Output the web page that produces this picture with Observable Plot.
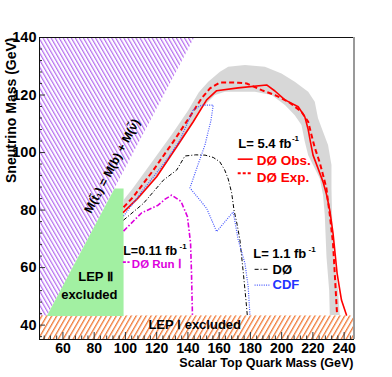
<!DOCTYPE html>
<html><head><meta charset="utf-8">
<script src="https://cdn.jsdelivr.net/npm/d3@7"></script>
<script src="https://cdn.jsdelivr.net/npm/@observablehq/plot@0.6"></script>
<style>html,body{margin:0;padding:0;background:#fff}</style>
</head><body><div id="chart"></div>
<script>
// ---- data (x = scalar top mass, y = sneutrino mass, GeV) ----
const xDomain = [45, 246];
const yDomain = [35, 140];
const xTicks = [60, 80, 100, 120, 140, 160, 180, 200, 220, 240];
const yTicks = [40, 60, 80, 100, 120, 140];
const lepILimit = 43.2;
const kinematicRegion = [[45, 43.2], [45, 140], [144, 140], [49.7, 43.2]];
const lepIIRegion = [[49.7, 43.2], [93, 87.5], [98.8, 87.5], [98.8, 43.2]];
const d0Observed = [[98.8,79.3],[107.9,84.1],[120,91.6],[132.8,102],[143.4,110.7],[152,118.3],[158.4,121.5],[172.2,122.5],[190.4,123.5],[195.7,121.4],[202.1,118.3],[210.6,115.9],[214.8,112.5],[217,108],[218.5,103.5],[220.1,99.1],[223.3,94.5],[226.5,89.8],[228.7,85.5],[230.8,80],[232.9,71.9],[235.5,58],[238.3,48.7],[241.5,43.5]];
const d0Expected = [[98.8,81],[105.1,84.6],[117.9,93.9],[130.7,103.8],[141.3,112.5],[148.8,118.9],[154.1,122.3],[160.5,124.4],[172.2,124.3],[177.6,124],[187.2,121.7],[195.7,120],[204.2,117.7],[212.7,114.2],[217,110.7],[219.1,106.1],[221.2,101.7],[224.4,96.5],[226.5,92.2],[228.7,87.5],[229.7,82.9],[230.8,78.5],[232.9,68.4],[234,58],[235.5,43.5]];
const bandOuter = [[98.8,83.5],[105,87.8],[118,97.5],[130,106.5],[140,114.5],[147,121],[153,124.6],[160.5,128.1],[165.8,129.8],[176.5,130.4],[189.3,129.8],[199.9,127.5],[208.4,124.6],[217,121.1],[221.2,117.7],[223.3,111.9],[226.5,107.2],[229.7,102.6],[231.9,95.7],[231.9,87.5],[232.3,78],[233.4,63.8],[236.1,52.2],[237.2,43.5]];
const bandInner = [[98.8,79],[108,83.5],[120,91.2],[133,101.5],[143.4,110.2],[148.8,115.4],[157.3,120],[163.7,121.1],[182.9,121.1],[193.6,120],[202.1,116.5],[208.4,113],[212.7,109.6],[214.8,103.8],[217,99.1],[220.1,95.7],[224.4,91],[226.5,85.2],[227.6,78.3],[228.7,63.8],[230.4,52.2],[230.8,43.5]];
const d0RunIIa = [[98.8,76.5],[111.5,82.3],[124.3,90.4],[132.8,93.9],[138.1,98.8],[145,99.2],[151,99.1],[156.2,98.3],[160.4,96.8],[163.5,94],[165.8,90.8],[168,86],[169.5,80],[171.5,75],[173.3,69.6],[175.5,58],[177.1,49],[178,43.5]];
const cdf = [[98.8,77.9],[111.3,87],[125.4,96.7],[134.9,104.3],[143.4,114.8],[148.8,116.5],[156.2,116.5],[154.8,111.3],[150.9,102.6],[146.4,95.7],[141.3,87.7],[152,80.6],[158.4,72.5],[169,79.4],[172.2,69.6],[176.5,61.5],[178.6,53.3],[179.7,43.5]];
const d0RunI = [[98.8,72.7],[110.3,79],[120.9,81.7],[125.4,83.8],[129.6,85.2],[135.6,83],[139.7,77.7],[141.7,68.5],[142.3,58.1],[142.9,43.5]];

// ---- layout ----
const W = 392, H = 377, mL = 39, mR = 39, mT = 37, mB = 38;
const gx = (xDomain[1] - xDomain[0]) / (W - mL - mR);
const gy = (yDomain[1] - yDomain[0]) / (H - mT - mB);
const F = "Liberation Sans, Arial, Helvetica, sans-serif";
const xMinor = d3.range(48, 246, 4).filter(v => !xTicks.includes(v));
const yMinor = d3.range(36, 141, 4).filter(v => !yTicks.includes(v));
const bandPolygon = bandOuter.concat(bandInner.slice().reverse());
const X = d => d[0], Y = d => d[1];
const T = (s, o) => Plot.text([s], {text: d => d, fontFamily: F, fontWeight: "bold", lineAnchor: "bottom", textAnchor: "start", ...o});

const plot = Plot.plot({
  width: W, height: H,
  marginLeft: mL, marginRight: mR, marginTop: mT, marginBottom: mB,
  x: {domain: xDomain, axis: null},
  y: {domain: yDomain, axis: null},
  style: {fontFamily: F, background: "white"},
  marks: [
    Plot.line(kinematicRegion, {x: X, y: Y, fill: "url(#hatchPurple)", stroke: "none"}),
    Plot.rect([0], {x1: xDomain[0], x2: xDomain[1], y1: yDomain[0], y2: lepILimit, fill: "url(#hatchOrange)"}),
    Plot.line(lepIIRegion, {x: X, y: Y, fill: "#a2f0a2", stroke: "none"}),
    Plot.line(bandPolygon, {x: X, y: Y, fill: "url(#grayDots)", stroke: "none"}),
    Plot.line(d0Expected, {x: X, y: Y, stroke: "#ff0000", strokeWidth: 2, strokeDasharray: "5,3", strokeLinecap: "butt"}),
    Plot.line(d0Observed, {x: X, y: Y, stroke: "#ff0000", strokeWidth: 1.6}),
    Plot.line(d0RunIIa, {x: X, y: Y, stroke: "#000", strokeWidth: 1, strokeDasharray: "4,2,1,2", strokeLinecap: "butt"}),
    Plot.line(cdf, {x: X, y: Y, stroke: "#4455ff", strokeWidth: 1.2, strokeDasharray: "1,1.3", strokeLinecap: "butt"}),
    Plot.line(d0RunI, {x: X, y: Y, stroke: "#dd00dd", strokeWidth: 1.6, strokeDasharray: "5,2,1.5,2", strokeLinecap: "butt"}),
    // ticks (inside the frame)
    Plot.ruleY(yTicks, {y: d => d, x1: xDomain[0], x2: xDomain[0] + 6 * gx, stroke: "#333"}),
    Plot.ruleY(yMinor, {y: d => d, x1: xDomain[0], x2: xDomain[0] + 3 * gx, stroke: "#333"}),
    Plot.ruleX(xTicks, {x: d => d, y1: yDomain[0], y2: yDomain[0] + 7 * gy, stroke: "#333"}),
    Plot.ruleX(xMinor, {x: d => d, y1: yDomain[0], y2: yDomain[0] + 3.5 * gy, stroke: "#333"}),
    Plot.axisX({ticks: xTicks, tickSize: 0, tickPadding: 4, tickFormat: d => String(d), fontSize: 14, fontWeight: "bold", label: null}),
    Plot.axisY({ticks: yTicks, tickSize: 0, tickPadding: 3, tickFormat: d => String(d), fontSize: 14.5, fontWeight: "bold", label: null}),
    Plot.frame({stroke: "#111"}),
    Plot.ruleX([xDomain[1]], {stroke: "#999", strokeWidth: 2, dx: 0.5}),
    // axis titles
    Plot.text(["Sneutrino Mass (GeV)"], {text: d => d, frameAnchor: "top-left", rotate: -90, textAnchor: "end", lineAnchor: "middle", dx: -28, fontFamily: F, fontWeight: "bold", fontSize: 14}),
    Plot.text(["Scalar Top Quark Mass (GeV)"], {text: d => d, frameAnchor: "bottom-right", textAnchor: "end", lineAnchor: "bottom", dy: 27, fontFamily: F, fontWeight: "bold", fontSize: 12.5}),
    // annotations
    Plot.text(["M(t\u0303\u2081) = M(b) + M(\u03bd\u0303)"], {text: d => d, x: 91.5, y: 95.3, rotate: -62, textAnchor: "middle", lineAnchor: "middle", fontFamily: F, fontWeight: "bold", fontSize: 12}),
    T("LEP \u2161", {x: 80.9, y: 55.4, textAnchor: "middle", fontSize: 13}),
    T("excluded", {x: 76.9, y: 49.0, textAnchor: "middle", fontSize: 13}),
    T("LEP \u2160 excluded", {x: 114.7, y: 38.6, fontSize: 13}),
    T("L= 5.4 fb", {x: 172.3, y: 101.7, fontSize: 13}),
    T("-1", {x: 206.6, y: 103.9, fontSize: 8}),
    Plot.ruleY([97.7], {x1: 172.2, x2: 181.8, stroke: "#ff0000", strokeWidth: 1.6}),
    T("D\u00d8 Obs.", {x: 184, y: 95.7, fontSize: 13.5, fill: "#ff0000"}),
    Plot.ruleY([92.8], {x1: 172.2, x2: 181.8, stroke: "#ff0000", strokeWidth: 2, strokeDasharray: "3,2"}),
    T("D\u00d8 Exp.", {x: 184, y: 89.6, fontSize: 13.5, fill: "#ff0000"}),
    T("L= 1.1 fb", {x: 181.8, y: 63.2, fontSize: 13}),
    T("-1", {x: 217.2, y: 65.4, fontSize: 8}),
    Plot.ruleY([59.4], {x1: 183, x2: 192.5, stroke: "#000", strokeWidth: 1, strokeDasharray: "4,2,1,2"}),
    T("D\u00d8", {x: 194.2, y: 57.7, fontSize: 13}),
    Plot.ruleY([53.9], {x1: 183, x2: 192.5, stroke: "#4455ff", strokeWidth: 1.2, strokeDasharray: "1,1.3"}),
    T("CDF", {x: 194.2, y: 52.4, fontSize: 13, fill: "#2233ff"}),
    T("L=0.11 fb", {x: 98.6, y: 64.5, fontSize: 12.5}),
    T("-1", {x: 134.6, y: 66.6, fontSize: 8}),
    Plot.ruleY([61.9], {x1: 98.7, x2: 103, stroke: "#dd00dd", strokeWidth: 1.6, strokeDasharray: "3,1.5"}),
    T("D\u00d8 Run \u2160", {x: 104.1, y: 59.8, fontSize: 11.5, fill: "#dd00dd"})
  ]
});

const svg = d3.select(plot);
const defs = svg.insert("defs", ":first-child");
const pp = defs.append("pattern").attr("id", "hatchPurple").attr("patternUnits", "userSpaceOnUse")
  .attr("width", 3.5).attr("height", 10).attr("patternTransform", "rotate(-30)");
pp.append("rect").attr("width", 3.5).attr("height", 10).attr("fill", "white");
pp.append("rect").attr("x", 0).attr("width", 1.2).attr("height", 10).attr("fill", "#b56cf0");
const po = defs.append("pattern").attr("id", "hatchOrange").attr("patternUnits", "userSpaceOnUse")
  .attr("width", 4.3).attr("height", 10).attr("patternTransform", "rotate(30)");
po.append("rect").attr("width", 4.3).attr("height", 10).attr("fill", "white");
po.append("rect").attr("x", 0).attr("width", 1.3).attr("height", 10).attr("fill", "#f07a38");
const pg = defs.append("pattern").attr("id", "grayDots").attr("patternUnits", "userSpaceOnUse")
  .attr("width", 2).attr("height", 2);
pg.append("rect").attr("width", 2).attr("height", 2).attr("fill", "#ececec");
pg.append("rect").attr("width", 1).attr("height", 1).attr("fill", "#c2c2c2");
pg.append("rect").attr("x", 1).attr("y", 1).attr("width", 1).attr("height", 1).attr("fill", "#c2c2c2");

document.getElementById("chart").appendChild(plot);
</script>
</body></html>
